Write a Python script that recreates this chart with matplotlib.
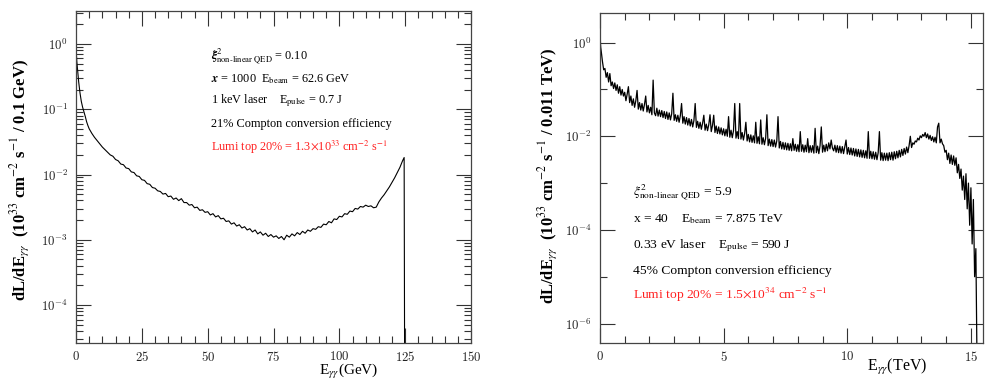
import numpy as np
import matplotlib
matplotlib.use("Agg")
import matplotlib.pyplot as plt
from matplotlib.ticker import FixedLocator, FuncFormatter, MultipleLocator, LogLocator, NullFormatter

plt.rcParams['font.family'] = ['Liberation Serif', 'DejaVu Serif']
plt.rcParams['mathtext.fontset'] = 'cm'

# ---------------- left spectrum: E_gg in GeV, log10 of dL/dE ----------------
left_head_e = [0.05, 0.15, 0.3, 0.5, 0.75, 1.0, 1.5, 2.0, 2.5, 3.0, 3.5, 4.0, 4.5]
left_head_log = [-0.06, -0.17, -0.27, -0.36, -0.48, -0.58, -0.75, -0.88, -0.97, -1.04, -1.11, -1.19, -1.25]
# 1 GeV bins from 5 to 124 GeV
left_grid_log = [
    -1.30, -1.37, -1.43, -1.48, -1.53, -1.58, -1.62, -1.66, -1.70, -1.72,
    -1.77, -1.79, -1.84, -1.85, -1.90, -1.91, -1.96, -1.97, -2.02, -2.03,
    -2.08, -2.09, -2.14, -2.15, -2.20, -2.21, -2.25, -2.26, -2.30, -2.29,
    -2.34, -2.33, -2.38, -2.36, -2.40, -2.37, -2.43, -2.43, -2.47, -2.46,
    -2.51, -2.50, -2.55, -2.54, -2.58, -2.57, -2.62, -2.60, -2.65, -2.63,
    -2.68, -2.67, -2.72, -2.71, -2.76, -2.74, -2.79, -2.77, -2.82, -2.80,
    -2.85, -2.83, -2.88, -2.85, -2.91, -2.88, -2.93, -2.90, -2.95, -2.92,
    -2.96, -2.94, -2.98, -2.95, -3.00, -2.93, -2.96, -2.91, -2.94, -2.89,
    -2.92, -2.87, -2.90, -2.85, -2.87, -2.83, -2.84, -2.80, -2.81, -2.76,
    -2.77, -2.72, -2.74, -2.68, -2.69, -2.64, -2.65, -2.60, -2.61, -2.56,
    -2.57, -2.52, -2.53, -2.49, -2.50, -2.47, -2.49, -2.48, -2.51, -2.50,
    -2.42, -2.36, -2.31, -2.25, -2.19, -2.12, -2.05, -1.97, -1.89, -1.79,
]
left_tail_e = [124.6, 124.9]
left_tail_log = [-1.74, -7.0]

# ---------------- right spectrum: E_gg in TeV, log10 of dL/dE ----------------
right_head_e = [0.0, 0.01, 0.02, 0.03, 0.04]
right_head_log = [0.45, 0.18, -0.02, -0.10, -0.14]
# 0.05 TeV bins from 0.05 to 15.25 TeV
right_grid_log = [
    -0.18, -0.40, -0.58, -0.55, -0.74, -0.64, -0.84, -0.66, -0.92, -0.84,
    -0.98, -0.86, -1.02, -0.90, -1.08, -0.94, -1.12, -1.00, -1.14, -1.06,
    -1.24, -1.10, -0.94, -1.28, -1.14, -1.34, -1.20, -1.38, -1.24, -1.02,
    -1.42, -1.28, -1.44, -1.30, -1.46, -1.32, -1.14, -1.48, -1.34, -1.50,
    -1.38, -1.54, -0.80, -1.50, -1.56, -1.40, -1.57, -1.44, -1.58, -1.45,
    -1.60, -1.47, -1.62, -1.48, -1.64, -1.50, -1.65, -1.52, -1.08, -1.66,
    -1.54, -1.68, -1.55, -1.70, -1.56, -1.30, -1.72, -1.58, -1.74, -1.60,
    -1.76, -1.62, -1.78, -1.64, -1.80, -1.66, -1.30, -1.81, -1.68, -1.83,
    -1.70, -1.85, -1.72, -1.55, -1.87, -1.74, -1.88, -1.75, -1.54, -1.90,
    -1.77, -1.55, -1.92, -1.78, -1.94, -1.80, -1.95, -1.82, -1.97, -1.84,
    -1.99, -1.85, -2.00, -1.58, -2.02, -1.87, -2.03, -1.88, -1.30, -2.04,
    -1.90, -2.05, -1.30, -2.06, -1.92, -2.08, -1.94, -1.70, -2.10, -1.96,
    -2.12, -1.97, -2.13, -1.99, -2.14, -1.70, -2.15, -2.01, -2.16, -1.65,
    -2.17, -2.03, -2.18, -2.04, -1.54, -2.20, -2.06, -2.21, -2.07, -2.22,
    -2.08, -2.23, -2.10, -1.58, -2.25, -2.11, -2.27, -2.13, -2.28, -2.14,
    -2.29, -2.15, -2.30, -2.16, -2.31, -2.05, -2.30, -2.17, -2.32, -2.18,
    -2.33, -1.90, -2.32, -2.18, -2.34, -2.19, -2.33, -2.05, -2.35, -2.20,
    -2.34, -2.20, -2.36, -1.83, -2.35, -2.21, -2.37, -2.20, -1.80, -2.34,
    -2.19, -2.33, -2.17, -2.31, -2.14, -2.27, -2.08, -2.25, -2.31, -2.19,
    -2.34, -2.20, -2.35, -2.21, -2.36, -2.22, -2.37, -2.23, -2.08, -2.38,
    -2.24, -2.39, -2.25, -2.40, -2.26, -2.42, -2.27, -2.43, -2.28, -2.44,
    -2.29, -2.45, -2.30, -2.46, -2.31, -2.47, -1.90, -2.47, -2.32, -2.48,
    -2.33, -2.49, -2.34, -2.50, -2.35, -1.90, -2.51, -2.35, -2.52, -2.36,
    -2.51, -2.36, -2.52, -2.35, -2.50, -2.34, -2.51, -2.33, -2.48, -2.32,
    -2.46, -2.30, -2.44, -2.28, -2.41, -2.26, -2.38, -2.23, -2.35, -2.20,
    -2.00, -2.24, -2.14, -2.17, -2.10, -2.12, -2.04, -2.08, -1.99, -2.03,
    -1.96, -2.00, -1.92, -2.03, -1.95, -2.06, -1.98, -2.09, -2.01, -2.12,
    -2.02, -2.14, -1.80, -1.72, -2.14, -2.06, -2.16, -2.20, -2.34, -2.30,
    -2.50, -2.36, -2.58, -2.40, -2.60, -2.42, -2.62, -2.46, -2.78, -2.60,
    -2.90, -2.70, -3.15, -2.85, -3.35, -2.80, -3.55, -3.00, -3.90, -3.10,
    -4.30, -3.35, -5.00, -4.40, -7.00,
]

left_e = np.concatenate([left_head_e, np.arange(5, 125, 1.0), left_tail_e])
left_v = 10.0 ** np.array(left_head_log + left_grid_log + left_tail_log)
right_e = np.concatenate([right_head_e, np.round(np.arange(1, len(right_grid_log) + 1) * 0.05, 2)])
right_v = 10.0 ** np.array(right_head_log + right_grid_log)

fig = plt.figure(figsize=(9.85, 3.82), dpi=100)
axL = fig.add_axes([0.0772, 0.1021, 0.4010, 0.8691])
axR = fig.add_axes([0.6091, 0.1029, 0.3889, 0.8639])

tick_color = '#333333'
log_fmt = FuncFormatter(lambda v, p: r'$10^{%d}$' % int(round(np.log10(v))))
num_fmt = FuncFormatter(lambda v, p: r'$%g$' % v)

for ax in (axL, axR):
    ax.set_yscale('log')
    for s in ax.spines.values():
        s.set_color('#444444')
        s.set_linewidth(0.9)
    ax.tick_params(which='both', direction='in', top=True, right=True,
                   color=tick_color, labelcolor='#222222', labelsize=9.2, width=0.8)
    ax.tick_params(which='major', length=11, pad=6)
    ax.tick_params(axis='x', which='major', pad=5)
    ax.tick_params(which='minor', length=5)
    ax.yaxis.set_major_formatter(log_fmt)
    ax.yaxis.set_minor_formatter(NullFormatter())
    ax.xaxis.set_major_formatter(num_fmt)

# left panel
axL.plot(left_e, left_v, color='black', lw=0.8)
axL.set_xlim(0, 150)
axL.set_ylim(2.62e-5, 3.2)
axL.xaxis.set_major_locator(MultipleLocator(25))
axL.xaxis.set_minor_locator(MultipleLocator(5))
axL.yaxis.set_major_locator(LogLocator(base=10, numticks=20))
axL.yaxis.set_minor_locator(LogLocator(base=10, subs=np.arange(2, 10), numticks=20))

# right panel
axR.plot(right_e, right_v, color='black', lw=0.9)
axR.set_xlim(0, 15.49)
axR.set_ylim(3.9e-7, 4.37)
axR.xaxis.set_major_locator(MultipleLocator(5))
axR.xaxis.set_minor_locator(MultipleLocator(1))
axR.yaxis.set_major_locator(FixedLocator([1e0, 1e-2, 1e-4, 1e-6]))
axR.yaxis.set_minor_locator(FixedLocator([1e-1, 1e-3, 1e-5, 1e-7]))

# annotations
left_lines = [
    (r'$\boldsymbol{\xi}^{2}_{\mathrm{non\text{-}linear\ QED}}$ = 0.10', 'black'),
    (r'$\boldsymbol{x}$ = 1000  E$_{\mathrm{beam}}$ = 62.6 GeV', 'black'),
    (r'1 keV laser    E$_{\mathrm{pulse}}$ = 0.7 J', 'black'),
    ('21% Compton conversion efficiency', 'black'),
    (r'Lumi top 20% = 1.3$\times$10$^{33}$ cm$^{-2}$ s$^{-1}$', '#ff2020'),
]
for (txt, col), yf in zip(left_lines, [0.8645, 0.795, 0.729, 0.660, 0.590]):
    axL.text(0.342, yf, txt, transform=axL.transAxes, fontsize=8.8, color=col,
             va='center', ha='left', math_fontfamily='stix')

right_lines = [
    (r'$\xi^{2}_{\mathrm{non\text{-}linear\ QED}}$ = 5.9', 'black'),
    (r'x = 40    E$_{\mathrm{beam}}$ = 7.875 TeV', 'black'),
    (r'0.33 eV laser    E$_{\mathrm{pulse}}$ = 590 J', 'black'),
    ('45% Compton conversion efficiency', 'black'),
    (r'Lumi top 20% = 1.5$\times$10$^{34}$ cm$^{-2}$ s$^{-1}$', '#ff2020'),
]
for (txt, col), yf in zip(right_lines, [0.4536, 0.375, 0.293, 0.2173, 0.1445]):
    axR.text(0.086, yf, txt, transform=axR.transAxes, fontsize=9.7, color=col,
             va='center', ha='left', math_fontfamily='stix')

fig.text(20 / 985, 0.529,
         r'dL/dE$_{\gamma\gamma}$  (10$^{33}$ cm$^{-2}$ s$^{-1}$ / 0.1 GeV)',
         rotation=90, ha='center', va='center', fontsize=12, fontweight='bold',
         math_fontfamily='stix')
fig.text(548 / 985, 0.539,
         r'dL/dE$_{\gamma\gamma}$  (10$^{33}$ cm$^{-2}$ s$^{-1}$ / 0.011 TeV)',
         rotation=90, ha='center', va='center', fontsize=12, fontweight='bold',
         math_fontfamily='stix')
fig.text(349 / 985, 0.028, r'E$_{\gamma\gamma}$(GeV)', ha='center', va='center',
         fontsize=11, math_fontfamily='stix')
fig.text(897 / 985, 0.039, r'E$_{\gamma\gamma}$(TeV)', ha='center', va='center',
         fontsize=11.5, math_fontfamily='stix')

fig.savefig('out.png', dpi=100)
